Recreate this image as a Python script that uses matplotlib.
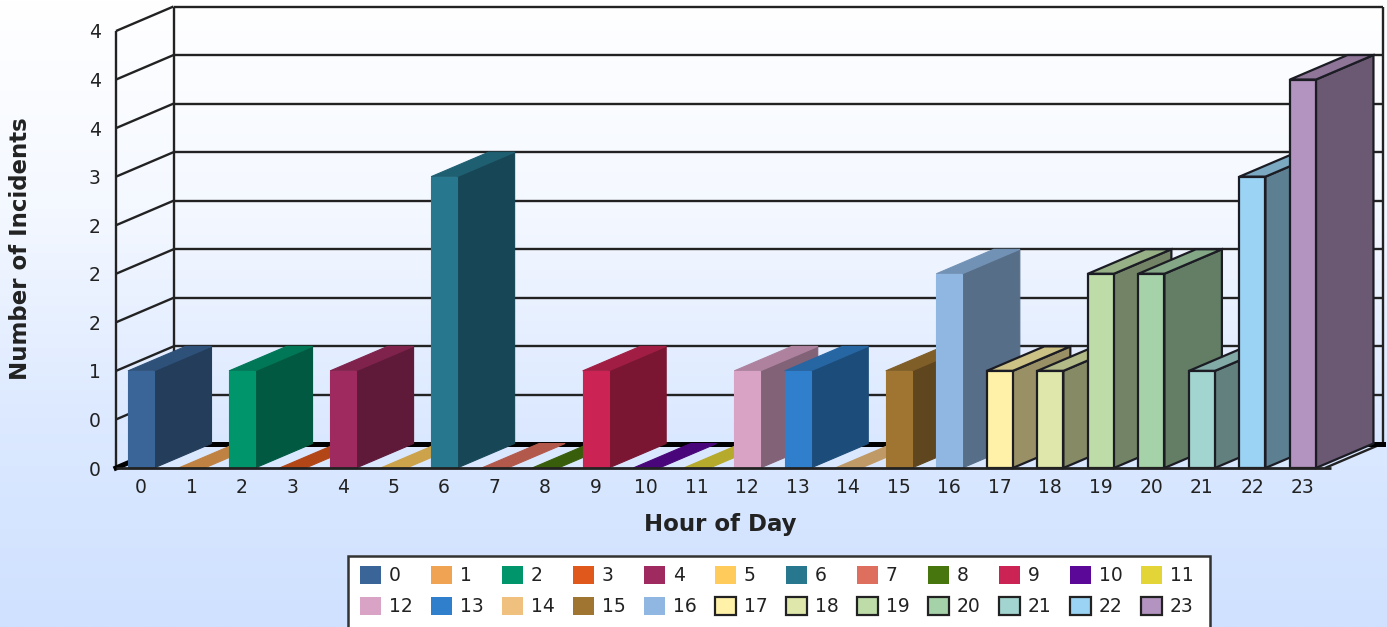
import numpy as np
import matplotlib
matplotlib.use("Agg")
import matplotlib.pyplot as plt
from matplotlib.patches import Polygon, Patch, Rectangle
from matplotlib.colors import to_rgb, LinearSegmentedColormap

hours = list(range(24))
incidents = [1, 0, 1, 0, 1, 0, 3, 0, 0, 1, 0, 0, 1, 1, 0, 1, 2, 1, 1, 2, 2, 1, 3, 4]
colors = ["#3A6598", "#F0A352", "#00956B", "#E0581C", "#9F2A5F", "#FFCC5C",
          "#27778F", "#DE6F5E", "#47760E", "#CB2454", "#5B0798", "#E3D537",
          "#D9A3C6", "#2F7FCC", "#F0C07F", "#A07532", "#8FB7E2", "#FFF2A8",
          "#DFE8AA", "#BEDCA8", "#A5D2A8", "#A3D5D0", "#9AD3F3", "#B393BF"]
y_ticks = [0, 0.5, 1, 1.5, 2, 2.5, 3, 3.5, 4, 4.5]
y_labels = ["0", "0", "1", "2", "2", "2", "3", "4", "4", "4"]
outlined_from = 17

W, H = 1387, 627
fig = plt.figure(figsize=(W / 100, H / 100), dpi=100)

bg = fig.add_axes([0, 0, 1, 1], zorder=0)
bg.axis("off")
cmap = LinearSegmentedColormap.from_list("bg", ["#FFFFFF", "#F4F8FF", "#DCE9FF", "#CFE1FF"])
bg.imshow(np.linspace(0, 1, 256).reshape(-1, 1), aspect="auto", cmap=cmap)

# front plane of the 3-D box, in figure pixels
L, R, T, B = 116, 1325, 31, 468
ax = fig.add_axes([L / W, 1 - B / H, (R - L) / W, (B - T) / H], zorder=1)
ax.patch.set_alpha(0)
pitch = 50.52
ax.set_xlim(-25 / pitch, (R - L - 25) / pitch)
ax.set_ylim(0, 4.5)
dep_x = 57.5 / pitch
dep_y = 24.5 * 4.5 / (B - T)
bw = 26 / pitch
for s in ax.spines.values():
    s.set_visible(False)

x0, x1 = ax.get_xlim()
line = dict(color="#222222", lw=1.7, clip_on=False, solid_capstyle="butt")
for t in y_ticks:
    ax.plot([x0 + dep_x, x1 + dep_x], [t + dep_y] * 2, zorder=1, **line)
    ax.plot([x0, x0 + dep_x], [t, t + dep_y], zorder=1, **line)
ax.plot([x0, x0], [0, 4.5], zorder=1, **line)
ax.plot([x0 + dep_x] * 2, [dep_y, 4.5 + dep_y], zorder=1, **line)
ax.plot([x1 + dep_x] * 2, [dep_y, 4.5 + dep_y], zorder=1, **line)
ax.plot([x0, x1 + 0.1 * dep_x], [0, 0], zorder=6, **{**line, "lw": 2})
ax.plot([x1, x1 + dep_x], [0, dep_y], zorder=1, **line)
ax.plot([x0 + dep_x, x1 + dep_x], [dep_y, dep_y], color="black", lw=3.6, zorder=1.5, clip_on=False)
ax.plot([x0, x0 + 0.2 * dep_x], [0, 0.2 * dep_y], color="black", lw=3.6, zorder=1.5, clip_on=False)


def shade(c, f):
    return tuple(v * f for v in to_rgb(c))


for i, (h, v, c) in enumerate(zip(hours, incidents, colors)):
    x = h - 13 / pitch
    outlined = i >= outlined_from
    lw = 1.6 if outlined else 0.8
    z = 2 + i * 0.01
    front = [(x, 0), (x + bw, 0), (x + bw, v), (x, v)]
    side = [(x + bw, 0), (x + bw + dep_x, dep_y), (x + bw + dep_x, v + dep_y), (x + bw, v)]
    top = [(x, v), (x + bw, v), (x + bw + dep_x, v + dep_y), (x + dep_x, v + dep_y)]
    faces = [(side, 0.6), (top, 0.8), (front, 1.0)] if v > 0 else [(top, 0.8)]
    for pts, f in faces:
        fc = shade(c, f)
        ax.add_patch(Polygon(pts, closed=True, fc=fc, ec="#1c1c24" if outlined else fc,
                             lw=lw, zorder=z, clip_on=False))

ax.set_xticks(hours, [str(h) for h in hours])
ax.set_yticks(y_ticks, y_labels)
ax.tick_params(axis="both", length=0, labelsize=13.5, labelcolor="#222222")
ax.tick_params(axis="x", pad=7)
ax.tick_params(axis="y", pad=11)
ax.set_xlabel("Hour of Day", fontsize=16.5, fontweight="bold", color="#222222")
ax.xaxis.set_label_coords((720 - L) / (R - L), -(524 - B) / (B - T), transform=ax.transAxes)
ax.xaxis.label.set_verticalalignment("center")
ax.set_ylabel("Number of Incidents", fontsize=16.5, fontweight="bold", color="#222222")
ax.yaxis.set_label_coords((21 - L) / (R - L), (B - 249) / (B - T), transform=ax.transAxes)
ax.yaxis.label.set_verticalalignment("center")

fig.add_artist(Rectangle((348 / W, 1 - 630 / H), 862 / W, 74 / H, transform=fig.transFigure,
                         fc="white", ec="#333333", lw=1.8, zorder=5))

handles = [Patch(fc=c, ec="#222222" if i >= outlined_from else "none",
                 lw=1.6 if i >= outlined_from else 0, label=str(h))
           for i, (h, c) in enumerate(zip(hours, colors))]
n_cols = 12
column_order = [handles[c + r * n_cols] for c in range(n_cols) for r in range(2)]
leg = fig.legend(handles=column_order, ncol=n_cols, loc="center", fontsize=13.5,
                 bbox_to_anchor=(777 / W, 1 - 591 / H), frameon=False,
                 handlelength=1.1, handleheight=1.1, handletextpad=0.42,
                 columnspacing=1.0, labelspacing=0.62, borderpad=0, borderaxespad=0)
leg.set_zorder(6)
for t in leg.get_texts():
    t.set_color("#222222")

fig.savefig("out.png", dpi=100)
